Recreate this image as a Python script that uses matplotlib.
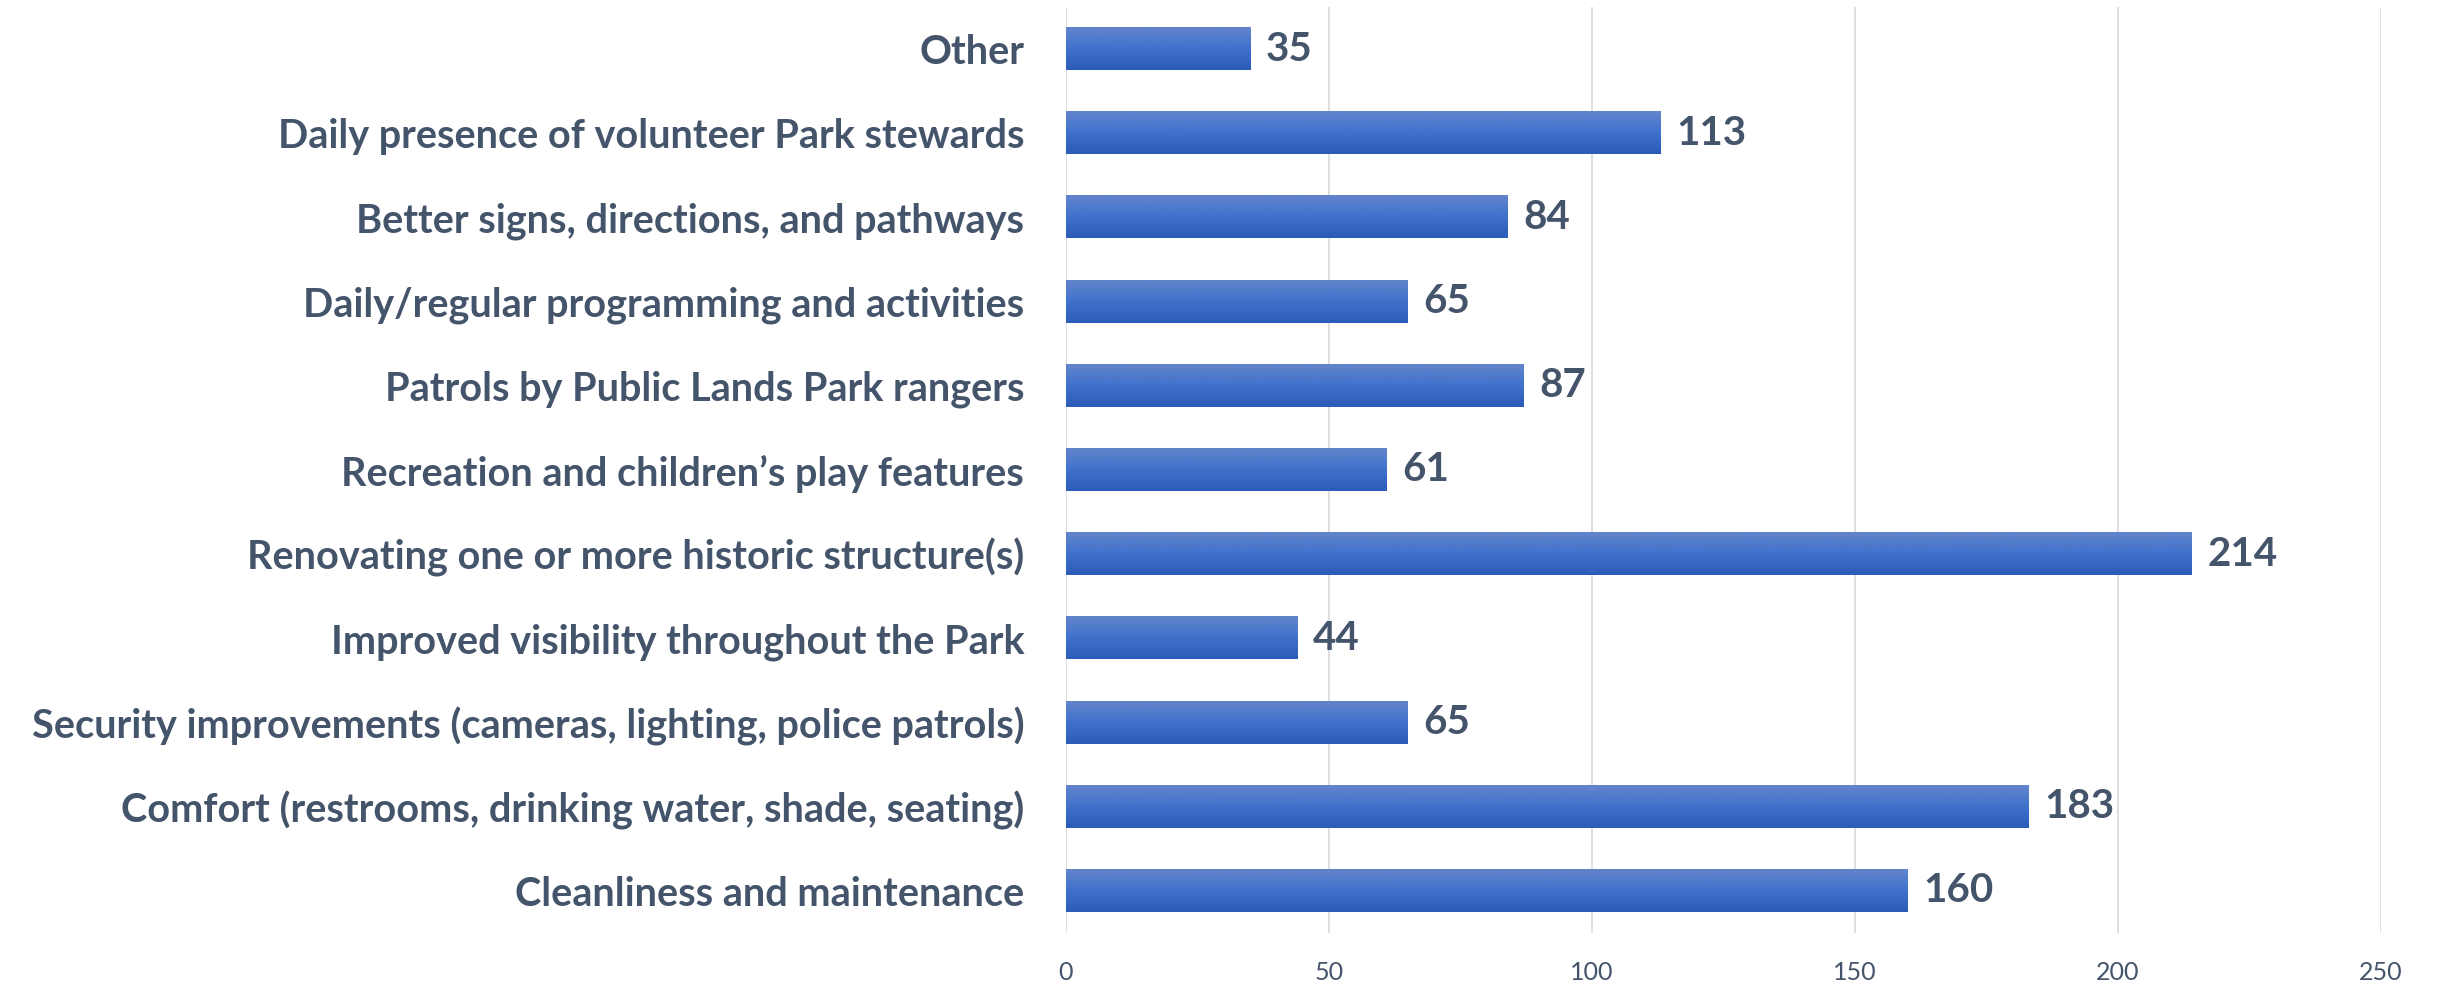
import matplotlib.pyplot as plt
import numpy as np
from matplotlib.colors import LinearSegmentedColormap

categories = [
    "Cleanliness and maintenance",
    "Comfort (restrooms, drinking water, shade, seating)",
    "Security improvements (cameras, lighting, police patrols)",
    "Improved visibility throughout the Park",
    "Renovating one or more historic structure(s)",
    "Recreation and children\u2019s play features",
    "Patrols by Public Lands Park rangers",
    "Daily/regular programming and activities",
    "Better signs, directions, and pathways",
    "Daily presence of volunteer Park stewards",
    "Other",
]
counts = [160, 183, 65, 44, 214, 61, 87, 65, 84, 113, 35]
x_ticks = [0, 50, 100, 150, 200, 250]

text_color = "#44546A"
plt.rcParams['font.family'] = ['Lato', 'DejaVu Sans']

fig = plt.figure(figsize=(24.38, 9.91), dpi=100)
ax = fig.add_axes([0.4372, 0.0585, 0.5394, 0.9345])

grad = LinearSegmentedColormap.from_list("bar", ["#2B5CB8", "#3F72CC", "#6384CC"])
bar_h = 0.5
ypos = np.arange(len(categories))
for y, v in zip(ypos, counts):
    ax.imshow(np.linspace(0, 1, 50).reshape(-1, 1), cmap=grad, aspect="auto",
              extent=[0, v, y - bar_h / 2, y + bar_h / 2], origin="lower",
              interpolation="bicubic", zorder=2)
    ax.text(v + 3, y, str(v), va="center", ha="left", fontsize=29,
            fontweight="bold", color=text_color)

ax.set_xlim(0, 250)
ax.set_ylim(-0.5, len(categories) - 0.5)
ax.set_xticks(x_ticks)
ax.set_yticks(ypos)
ax.set_yticklabels(categories, fontsize=28.5, fontweight="bold", color=text_color)
ax.tick_params(axis="x", labelsize=18, colors=text_color, length=0, pad=20)
ax.tick_params(axis="y", length=0, pad=30)
ax.grid(axis="x", color="#D9D9D9", linewidth=1.2, zorder=0)
ax.set_axisbelow(True)
for s in ax.spines.values():
    s.set_visible(False)

plt.savefig("out.png")
